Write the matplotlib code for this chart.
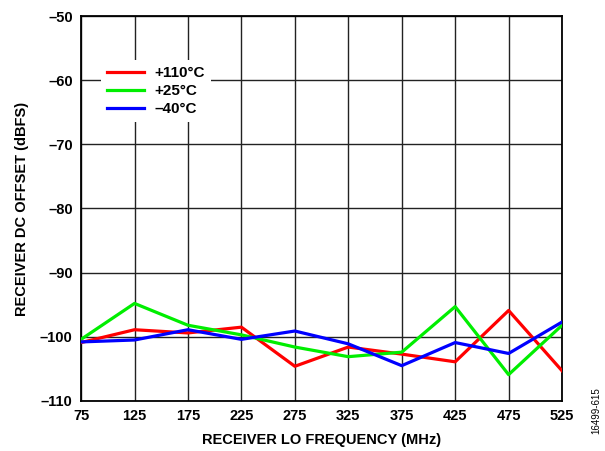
import matplotlib
matplotlib.use("Agg")
import matplotlib.pyplot as plt

# values
freq_mhz = [75, 125, 175, 225, 275, 325, 375, 425, 475, 525]
offset_110c = [-100.9, -98.9, -99.4, -98.5, -104.6, -101.6, -102.7, -103.9, -95.9, -105.3]
offset_25c = [-100.4, -94.8, -98.2, -99.7, -101.6, -103.1, -102.4, -95.3, -105.9, -98.2]
offset_m40c = [-100.8, -100.5, -98.9, -100.4, -99.1, -101.1, -104.5, -100.9, -102.6, -97.7]

y_ticks = [-110, -100, -90, -80, -70, -60, -50]
series_labels = ["+110°C", "+25°C", "\u201340°C"]

plt.rcParams["font.family"] = ["Liberation Sans", "DejaVu Sans"]
plt.rcParams["font.weight"] = "bold"
plt.rcParams["font.size"] = 10.5

fig = plt.figure(figsize=(6.05, 4.51), dpi=100)
ax = fig.add_axes([0.134, 0.111, 0.795, 0.8535])

lw = 2.3
ax.plot(freq_mhz, offset_110c, color="#ff0000", lw=lw, label=series_labels[0], zorder=3)
ax.plot(freq_mhz, offset_25c, color="#00ee00", lw=lw, label=series_labels[1], zorder=3)
ax.plot(freq_mhz, offset_m40c, color="#0000ff", lw=lw, label=series_labels[2], zorder=3)

ax.set_xlim(75, 525)
ax.set_ylim(-110, -50)
ax.set_xticks(freq_mhz)
ax.set_xticklabels([str(f) for f in freq_mhz], fontweight="bold")
ax.set_yticks(y_ticks)
ax.set_yticklabels([str(v).replace("-", "\u2013") for v in y_ticks], fontweight="bold")
ax.tick_params(length=0, pad=6)
ax.grid(True, color="#222222", lw=1.0)
ax.set_axisbelow(True)
for s in ax.spines.values():
    s.set_linewidth(1.3)
    s.set_color("black")

ax.set_xlabel("RECEIVER LO FREQUENCY (MHz)", fontweight="bold", labelpad=7)
ax.set_ylabel("RECEIVER DC OFFSET (dBFS)", fontweight="bold", labelpad=8)

leg = ax.legend(loc="upper left", bbox_to_anchor=(0.025, 0.905), frameon=True,
                framealpha=1, edgecolor="none", fancybox=False,
                handlelength=2.4, handletextpad=0.7, labelspacing=0.25,
                borderpad=0.4, prop={"weight": "bold", "size": 11})

fig.text(0.985, 0.09, "16499-615", rotation=90, fontsize=7, fontweight="normal",
         ha="center", va="center")

fig.savefig("out.png", dpi=100)
